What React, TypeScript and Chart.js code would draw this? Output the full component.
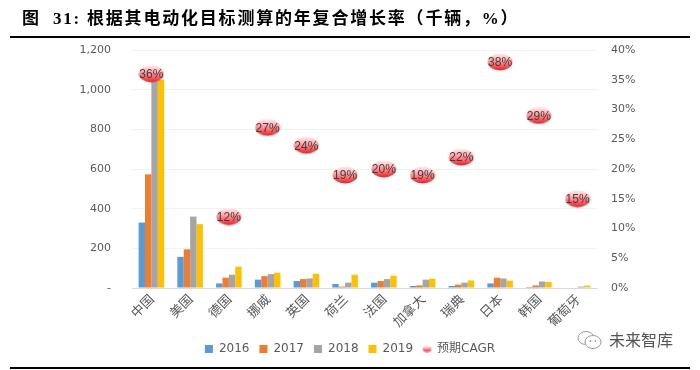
import React, { useEffect, useRef } from "react";
import { Chart, registerables } from "chart.js";

Chart.register(...registerables);

const categories = ["中国", "美国", "德国", "挪威", "英国", "荷兰", "法国", "加拿大", "瑞典", "日本", "韩国", "葡萄牙"];
const s2016 = [330, 157, 23, 42, 35, 20, 27, 10, 10, 23, 5, 0];
const s2017 = [573, 195, 52, 60, 45, 7, 35, 13, 17, 52, 13, 0];
const s2018 = [1060, 360, 67, 70, 48, 27, 45, 42, 27, 48, 33, 7];
const s2019 = [1050, 322, 107, 77, 72, 67, 62, 47, 38, 37, 30, 12];
const cagr = [36, null, 12, 27, 24, 19, 20, 19, 22, 38, 29, 15];
const seriesNames = ["2016", "2017", "2018", "2019", "预期CAGR"];
const leftMax = 1200;
const leftStep = 200;
const rightMax = 40;
const rightStep = 5;

const COLORS = ["#5B9BD5", "#ED7D31", "#A5A5A5", "#FFC000"];
const TICK_FONT = "'DejaVu Sans', 'Noto Sans CJK SC', sans-serif";
const CJK_FONT = "'Noto Sans CJK SC', 'DejaVu Sans', sans-serif";

function makeBubble(w: number, h: number) {
  const c = document.createElement("canvas");
  c.width = w;
  c.height = h;
  const g = c.getContext("2d")!;
  const grad = g.createLinearGradient(0, 0, 0, h);
  grad.addColorStop(0, "#fff2f2");
  grad.addColorStop(0.35, "#ffb3b6");
  grad.addColorStop(0.7, "#ff5c63");
  grad.addColorStop(1, "#e8141c");
  g.fillStyle = grad;
  g.beginPath();
  g.ellipse(w / 2, h / 2, w / 2 - 0.5, h / 2 - 0.5, 0, 0, Math.PI * 2);
  g.fill();
  return c;
}

export default function App() {
  const ref = useRef<HTMLCanvasElement | null>(null);

  useEffect(() => {
    if (!ref.current) return;
    const bigBubble = makeBubble(26, 18);
    const smallBubble = makeBubble(10, 7);

    const labelPlugin = {
      id: "cagrLabels",
      afterDatasetsDraw(chart: any) {
        const meta = chart.getDatasetMeta(4);
        const ctx = chart.ctx;
        ctx.save();
        ctx.font = "12px 'Liberation Sans', sans-serif";
        ctx.fillStyle = "#404040";
        ctx.textAlign = "center";
        ctx.textBaseline = "middle";
        meta.data.forEach((pt: any, i: number) => {
          const v = cagr[i];
          if (v === null || v === undefined) return;
          ctx.fillText(v + "%", pt.x, pt.y + 1);
        });
        ctx.restore();
      },
    };

    const barDs = [s2016, s2017, s2018, s2019].map((d, i) => ({
      type: "bar" as const,
      label: seriesNames[i],
      data: d,
      backgroundColor: COLORS[i],
      borderWidth: 0,
      yAxisID: "y",
      order: 1,
      pointStyle: "rect",
      categoryPercentage: 0.66,
      barPercentage: 1,
    }));

    const chart = new Chart(ref.current, {
      data: {
        labels: categories,
        datasets: [
          ...barDs,
          {
            type: "line" as const,
            label: seriesNames[4],
            data: cagr,
            yAxisID: "y1",
            showLine: false,
            order: 0,
            pointStyle: bigBubble as any,
            pointRadius: 9,
            pointHoverRadius: 9,
            backgroundColor: "#ff3b3b",
            borderColor: "#ff3b3b",
          },
        ],
      } as any,
      options: {
        animation: false,
        responsive: false,
        maintainAspectRatio: false,
        events: [],
        layout: { padding: { top: 50, bottom: 5, left: 0, right: 0 } },
        plugins: {
          tooltip: { enabled: false },
          legend: {
            display: true,
            position: "bottom",
            labels: {
              usePointStyle: true,
              boxWidth: 8,
              boxHeight: 8,
              padding: 10,
              color: "#595959",
              font: { family: TICK_FONT, size: 12 },
              generateLabels: (ch: any) => {
                const items = (Chart.defaults.plugins.legend.labels as any).generateLabels(ch);
                items.sort((a: any, b: any) => a.datasetIndex - b.datasetIndex);
                items.forEach((it: any) => {
                  if (it.datasetIndex === 4) it.pointStyle = smallBubble;
                });
                return items;
              },
            },
          },
        },
        scales: {
          x: {
            offset: true,
            grid: { display: false, drawTicks: false },
            border: { display: true, color: "#d9d9d9", width: 1 },
            ticks: {
              minRotation: 45,
              maxRotation: 45,
              autoSkip: false,
              padding: 3,
              color: "#595959",
              font: { family: CJK_FONT, size: 13 },
            },
            afterFit: (s: any) => {
              s.height = 45;
            },
          },
          y: {
            position: "left",
            min: 0,
            max: leftMax,
            grid: { color: "#f2f2f2", drawTicks: false },
            border: { display: false },
            ticks: {
              stepSize: leftStep,
              padding: 21,
              color: "#595959",
              font: { family: TICK_FONT, size: 11 },
              callback: (v: any) => (Number(v) === 0 ? "-" : Number(v).toLocaleString("en-US")),
            },
            afterFit: (s: any) => {
              s.width = 132;
            },
          },
          y1: {
            position: "right",
            min: 0,
            max: rightMax,
            grid: { display: false, drawTicks: false },
            border: { display: false },
            ticks: {
              stepSize: rightStep,
              padding: 14,
              color: "#595959",
              font: { family: TICK_FONT, size: 11 },
              callback: (v: any) => v + "%",
            },
            afterFit: (s: any) => {
              s.width = 103;
            },
          },
        },
      } as any,
      plugins: [labelPlugin],
    });
    return () => chart.destroy();
  }, []);

  return (
    <div
      style={{
        position: "fixed",
        left: 0,
        top: 0,
        width: 700,
        height: 370,
        background: "#fff",
        overflow: "hidden",
      }}
    >
      <canvas ref={ref} width={700} height={370} style={{ position: "absolute", left: 0, top: 0, width: 700, height: 370 }} />
      <div
        style={{
          position: "absolute",
          left: 22,
          top: 8,
          fontFamily: "'Liberation Serif', 'Noto Sans CJK SC', serif",
          fontWeight: 700,
          fontSize: 17,
          lineHeight: "22px",
          letterSpacing: 1.8,
          color: "#000",
          whiteSpace: "nowrap",
        }}
      >
        图&nbsp;&nbsp;31:&nbsp;根据其电动化目标测算的年复合增长率（千辆，%）
      </div>
      <div style={{ position: "absolute", left: 10, top: 36, width: 680, height: 2, background: "#000" }} />
      <div style={{ position: "absolute", left: 10, top: 367, width: 680, height: 2, background: "#000" }} />
      <svg style={{ position: "absolute", left: 576, top: 330 }} width={28} height={20} viewBox="0 0 28 20">
        <ellipse cx={10} cy={8} rx={8} ry={6.5} fill="none" stroke="#9a9a9a" strokeWidth={1} />
        <ellipse cx={17} cy={12} rx={8} ry={6.5} fill="#fff" stroke="#9a9a9a" strokeWidth={1} />
        <circle cx={14.5} cy={11} r={0.9} fill="#9a9a9a" />
        <circle cx={19.5} cy={11} r={0.9} fill="#9a9a9a" />
      </svg>
      <div
        style={{
          position: "absolute",
          left: 609,
          top: 329,
          fontFamily: "'Noto Sans CJK SC', sans-serif",
          fontSize: 16,
          lineHeight: "20px",
          color: "#555",
          whiteSpace: "nowrap",
        }}
      >
        未来智库
      </div>
    </div>
  );
}
